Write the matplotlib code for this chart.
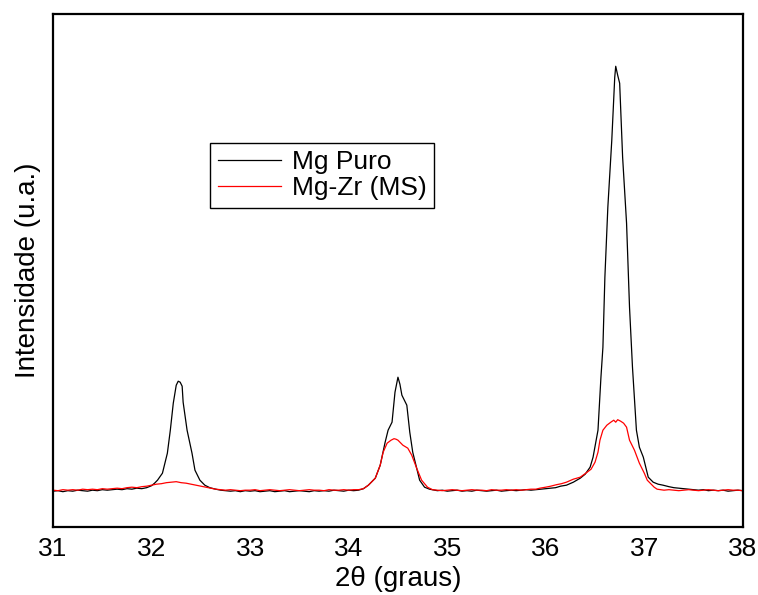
import numpy as np
import matplotlib
matplotlib.use('Agg')
import matplotlib.pyplot as plt

plt.rcParams['font.family'] = ['Liberation Sans', 'DejaVu Sans']

# Mg Puro
mg_x = [31.00, 31.05, 31.10, 31.15, 31.20, 31.25, 31.30, 31.35, 31.40, 31.45,
        31.50, 31.55, 31.60, 31.65, 31.70, 31.75, 31.80, 31.85, 31.90, 31.95,
        32.00, 32.03, 32.06, 32.11, 32.16, 32.19, 32.22, 32.25, 32.27, 32.29,
        32.31, 32.32, 32.36, 32.41, 32.44, 32.49, 32.54, 32.59, 32.65, 32.70,
        32.75, 32.80, 32.85, 32.90, 32.95, 33.00, 33.05, 33.10, 33.15, 33.20,
        33.25, 33.30, 33.35, 33.40, 33.45, 33.50, 33.55, 33.60, 33.65, 33.70,
        33.75, 33.80, 33.85, 33.90, 33.95, 34.00, 34.05, 34.10, 34.15, 34.20,
        34.27, 34.32, 34.37, 34.40, 34.44, 34.47, 34.50, 34.52, 34.54, 34.59,
        34.62, 34.65, 34.69, 34.72, 34.77, 34.82, 34.87, 34.90, 34.95, 35.00,
        35.05, 35.10, 35.15, 35.20, 35.25, 35.30, 35.35, 35.40, 35.45, 35.50,
        35.55, 35.60, 35.65, 35.70, 35.75, 35.80, 35.85, 35.90, 35.95, 36.00,
        36.05, 36.10, 36.15, 36.21, 36.28, 36.35, 36.40, 36.45, 36.48, 36.53,
        36.56, 36.58, 36.60, 36.63, 36.67, 36.70, 36.71, 36.73, 36.75, 36.78,
        36.82, 36.85, 36.88, 36.92, 36.95, 36.99, 37.04, 37.09, 37.14, 37.19,
        37.25, 37.30, 37.35, 37.40, 37.45, 37.50, 37.55, 37.60, 37.65, 37.70,
        37.75, 37.80, 37.85, 37.90, 37.95, 38.00]
mg_y = [72, 73, 71, 73, 72, 74, 73, 72, 74, 73,
        75, 74, 75, 76, 75, 77, 76, 78, 77, 79,
        83, 88, 94, 108, 148, 194, 248, 284, 292, 290,
        282, 250, 194, 148, 114, 94, 84, 79, 76, 74,
        73, 72, 73, 71, 73, 72, 73, 71, 72, 73,
        71, 72, 73, 71, 72, 73, 72, 71, 73, 72,
        73, 72, 74, 73, 72, 74, 73, 74, 77, 84,
        98, 124, 170, 194, 210, 270, 300, 286, 264, 244,
        190, 150, 118, 94, 80, 76, 74, 73, 74, 72,
        73, 74, 72, 73, 72, 74, 73, 72, 73, 74,
        72, 73, 74, 73, 74, 75, 74, 75, 76, 77,
        78, 79, 82, 84, 90, 98, 106, 120, 140, 194,
        300, 360, 500, 640, 774, 900, 922, 904, 888, 740,
        608, 440, 320, 194, 160, 140, 100, 90, 86, 84,
        81, 79, 78, 77, 76, 75, 74, 75, 73, 74,
        73, 74, 72, 73, 74, 73]

# Mg-Zr (MS)
mgzr_x = [31.00, 31.05, 31.10, 31.15, 31.20, 31.25, 31.30, 31.35, 31.40, 31.45,
          31.50, 31.55, 31.60, 31.65, 31.70, 31.75, 31.80, 31.85, 31.90, 31.95,
          32.00, 32.05, 32.10, 32.15, 32.20, 32.25, 32.30, 32.35, 32.40, 32.45,
          32.50, 32.55, 32.60, 32.65, 32.70, 32.75, 32.80, 32.85, 32.90, 32.95,
          33.00, 33.05, 33.10, 33.15, 33.20, 33.25, 33.30, 33.35, 33.40, 33.45,
          33.50, 33.55, 33.60, 33.65, 33.70, 33.75, 33.80, 33.85, 33.90, 33.95,
          34.00, 34.05, 34.10, 34.15, 34.20, 34.27, 34.32, 34.35, 34.39, 34.43,
          34.46, 34.48, 34.50, 34.55, 34.60, 34.64, 34.69, 34.74, 34.80, 34.85,
          34.90, 34.95, 35.00, 35.05, 35.10, 35.15, 35.20, 35.25, 35.30, 35.35,
          35.40, 35.45, 35.50, 35.55, 35.60, 35.65, 35.70, 35.75, 35.80, 35.85,
          35.90, 35.94, 36.00, 36.05, 36.11, 36.16, 36.21, 36.28, 36.35, 36.42,
          36.46, 36.50, 36.53, 36.55, 36.58, 36.62, 36.66, 36.69, 36.71, 36.73,
          36.76, 36.79, 36.82, 36.85, 36.90, 36.95, 37.00, 37.03, 37.06, 37.10,
          37.13, 37.20, 37.25, 37.30, 37.35, 37.40, 37.45, 37.50, 37.55, 37.60,
          37.65, 37.70, 37.75, 37.80, 37.85, 37.90, 37.95, 38.00]
mgzr_y = [74, 73, 75, 74, 75, 74, 76, 75, 76, 75,
          77, 76, 77, 78, 77, 79, 80, 79, 81, 82,
          84, 86, 87, 89, 90, 91, 89, 88, 86, 84,
          82, 80, 78, 76, 75, 74, 75, 74, 73, 74,
          74, 75, 73, 74, 75, 74, 73, 74, 75, 74,
          73, 74, 75, 74, 74, 73, 75, 74, 74, 75,
          74, 75, 75, 77, 84, 98, 124, 150, 168, 174,
          177, 176, 174, 164, 158, 144, 118, 94, 80, 75,
          74, 73, 74, 75, 74, 73, 74, 75, 74, 74,
          73, 75, 74, 74, 75, 74, 75, 74, 75, 76,
          76, 78, 80, 82, 85, 87, 90, 96, 100, 110,
          116, 130, 150, 174, 194, 204, 210, 214, 210, 215,
          212, 208, 200, 174, 154, 128, 108, 94, 88, 80,
          76, 74, 75, 74, 73, 74, 75, 74, 73, 74,
          75, 74, 73, 74, 75, 74, 74, 73]

fig = plt.figure(figsize=(7.58, 5.95), dpi=100)
ax = fig.add_axes([0.070, 0.114, 0.910, 0.862])

ax.plot(mg_x, mg_y, color='black', lw=0.9, label='Mg Puro')
ax.plot(mgzr_x, mgzr_y, color='red', lw=0.9, label='Mg-Zr (MS)')

ax.set_xlim(31, 38)
ax.set_ylim(0, 1026)
ax.set_xticks(np.arange(31, 39, 1))
ax.set_yticks([])
ax.tick_params(axis='x', length=0, pad=7)
for lab in ax.get_xticklabels():
    lab.set_family(['Liberation Sans Narrow', 'Liberation Sans'])
    lab.set_fontsize(19)
for s in ax.spines.values():
    s.set_linewidth(1.6)

ax.set_xlabel('2\u03b8 (graus)', fontsize=20, labelpad=4)
ax.set_ylabel('Intensidade (u.a.)', fontsize=20, labelpad=9)

leg = ax.legend(loc='upper left', bbox_to_anchor=(0.2275, 0.75), fontsize=19,
                frameon=True, fancybox=False, edgecolor='black', framealpha=1,
                handlelength=2.4, borderpad=0.3, labelspacing=0.05,
                handletextpad=0.4, borderaxespad=0)
leg.get_frame().set_linewidth(1.0)

fig.savefig('out.png', dpi=100)
